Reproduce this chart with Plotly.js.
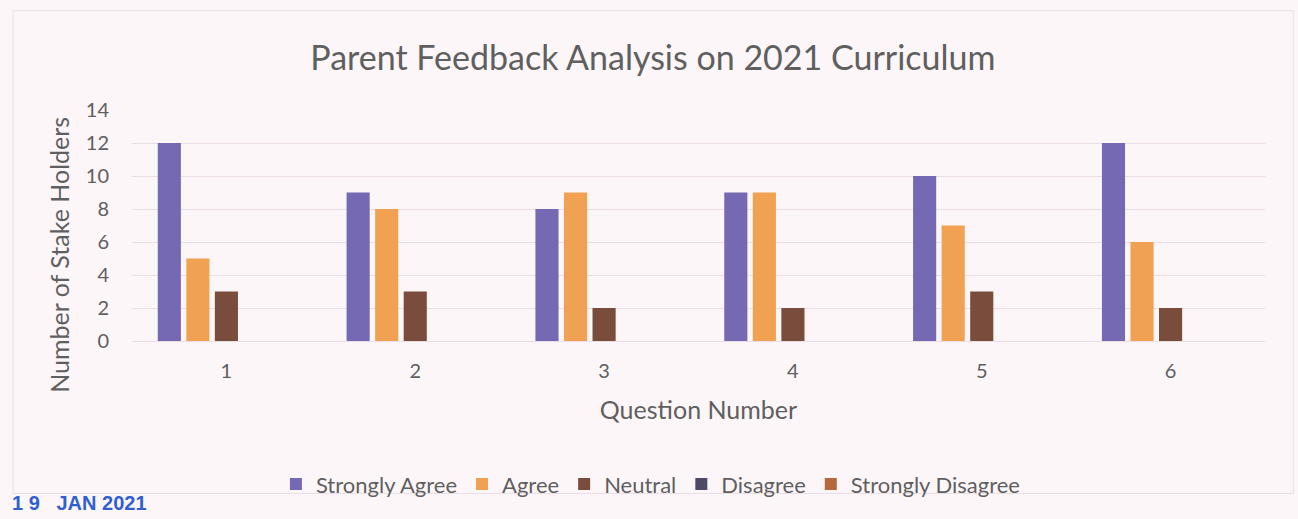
<!DOCTYPE html>
<html>
<head>
<meta charset="utf-8">
<script src="https://cdn.plot.ly/plotly-3.0.1.min.js"></script>
<style>html,body{margin:0;padding:0;background:#fcf6f9;}#chart{width:1298px;height:519px;}</style>
</head>
<body>
<div id="chart"></div>
<script>
const questions = ['1', '2', '3', '4', '5', '6'];
const stronglyAgree = [12, 9, 8, 9, 10, 12];
const agree = [5, 8, 9, 9, 7, 6];
const neutral = [3, 3, 2, 2, 3, 2];
const disagree = [0, 0, 0, 0, 0, 0];
const stronglyDisagree = [0, 0, 0, 0, 0, 0];
const seriesNames = ['Strongly Agree', 'Agree', 'Neutral', 'Disagree', 'Strongly Disagree'];
const seriesValues = [stronglyAgree, agree, neutral, disagree, stronglyDisagree];
const seriesColors = ['#7669b3', '#f0a252', '#7a4c3c', '#4e4a66', '#b5683c'];
const yTicks = [0, 2, 4, 6, 8, 10, 12, 14];

const traces = seriesNames.map((name, i) => ({
  type: 'bar', name: name, x: questions, y: seriesValues[i],
  marker: {color: seriesColors[i]}
}));

const grey = '#5f5f5f';
const layout = {
  width: 1298, height: 519,
  paper_bgcolor: '#fcf6f9', plot_bgcolor: '#fcf6f9',
  margin: {l: 132, r: 33, t: 110, b: 178},
  font: {family: 'Lato, "Open Sans", sans-serif', color: grey},
  title: {text: 'Parent Feedback Analysis on 2021 Curriculum', font: {size: 34, color: grey},
          x: 0.503, xanchor: 'center', y: 0.888, yanchor: 'middle'},
  barmode: 'group', bargap: 0.244, bargroupgap: 0.19,
  xaxis: {type: 'category', tickfont: {size: 20, color: grey}, ticks: '', showline: false,
          ticklabelstandoff: 16,
          title: {text: 'Question Number', font: {size: 25, color: grey}, standoff: 20}},
  yaxis: {range: [0, 14], tickvals: yTicks, tickfont: {size: 20, color: grey},
          gridcolor: '#ecdce3', gridwidth: 1, zeroline: true, zerolinecolor: '#ecdce3',
          ticks: '', ticklabelstandoff: 22},
  legend: {orientation: 'h', x: 0.458, xanchor: 'center', y: -0.62, yanchor: 'middle',
           font: {size: 22, color: grey}, itemwidth: 30, bgcolor: 'rgba(0,0,0,0)'},
  shapes: [{type: 'rect', xref: 'paper', yref: 'paper', x0: -0.105, x1: 1.025, y0: -0.66, y1: 1.43,
            line: {color: '#ecdde5', width: 1}}],
  annotations: [
    {text: 'Number of Stake Holders', textangle: -90, xref: 'paper', yref: 'paper',
     x: -0.064, xanchor: 'center', y: 0.375, yanchor: 'middle', showarrow: false,
     font: {size: 25, color: grey}},
    {text: '<b>1 9   JAN 2021</b>', xref: 'paper', yref: 'paper', x: -0.108, xanchor: 'left',
     y: -0.70, yanchor: 'middle', showarrow: false,
     font: {family: '"Liberation Sans Narrow", "Liberation Sans", sans-serif', size: 20, color: '#2f5fd0'}}]
};
Plotly.newPlot('chart', traces, layout, {displayModeBar: false});
</script>
</body>
</html>
